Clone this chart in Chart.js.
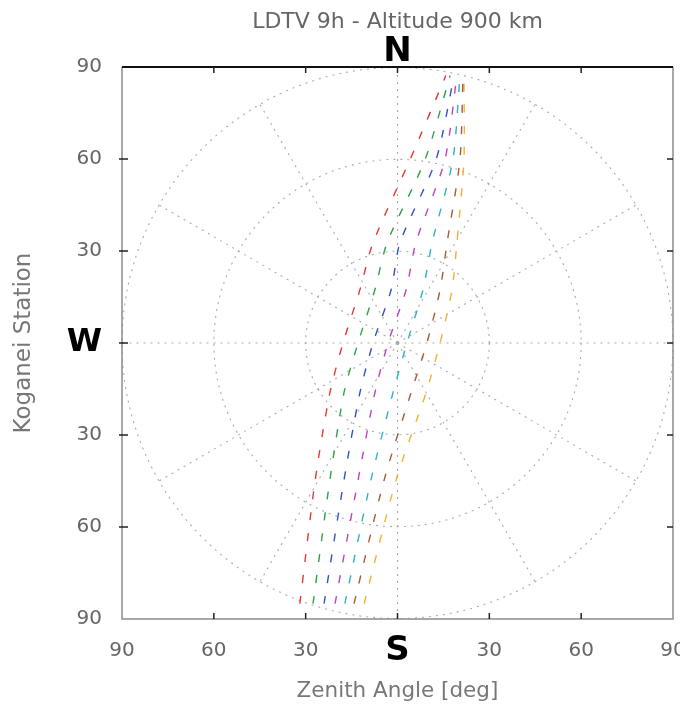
<!DOCTYPE html>
<html>
<head>
<meta charset="utf-8">
<title>LDTV 9h - Altitude 900 km</title>
<script src="https://cdn.jsdelivr.net/npm/chart.js@4.4.0/dist/chart.umd.min.js"></script>
<style>
  body { margin: 0; background: #fff; }
  #wrap { width: 680px; height: 707px; }
</style>
</head>
<body>
<div id="wrap"><canvas id="skyPlot" width="680" height="707"></canvas></div>
<script>
// sky plot: x = east/west offset, y = north/south offset, both in zenith degrees
const tickValues = [-90, -60, -30, 0, 30, 60, 90];
const ringZenith = [30, 60, 90];
const spokeAzimuth = [0, 30, 60, 90, 120, 150, 180, 210, 240, 270, 300, 330];

// shared north-south rows the passes were read at
const rowY = [-85, -44.8, -16.3, 0, 17.3, 32.7, 59.8, 87.2];

const passNames = ['pass 1', 'pass 2', 'pass 3', 'pass 4', 'pass 5', 'pass 6', 'pass 7'];
const passColors = ['#e8363a', '#2fa04a', '#3450c8', '#c042c0', '#2ab4c4', '#a85a36', '#f2b030'];
const pass1X = [-31.9, -26.9, -22.1, -17.8, -12.3, -8.0, 4.1, 15.8];
const pass2X = [-27.6, -22.1, -17.5, -12.9, -7.4, -3.4, 9.0, 17.2];
const pass3X = [-24.0, -17.5, -12.3, -8.0, -2.1, 0.8, 12.6, 18.5];
const pass4X = [-20.4, -12.9, -7.4, -3.1, 2.8, 6.0, 15.5, 19.4];
const pass5X = [-17.2, -8.7, -1.5, 3.1, 8.3, 11.3, 18.1, 20.4];
const pass6X = [-14.2, -4.4, 4.4, 9.6, 13.9, 16.2, 20.4, 21.4];
const pass7X = [-10.9, -0.5, 9.3, 13.9, 17.8, 19.4, 21.7, 21.7];
const passX = [pass1X, pass2X, pass3X, pass4X, pass5X, pass6X, pass7X];

const FAMILY = "'DejaVu Sans', sans-serif";

// rings, spokes, frame and inner tick marks, placed with the chart's own scales
const skyGrid = {
  id: 'skyGrid',
  beforeDatasetsDraw(chart) {
    const {ctx, scales: {x, y}} = chart;
    const cx = x.getPixelForValue(0), cy = y.getPixelForValue(0);
    ctx.save();
    ctx.strokeStyle = '#aaa';
    ctx.lineWidth = 1.1;
    ctx.setLineDash([2, 5]);
    ringZenith.forEach(z => {
      const r = x.getPixelForValue(z) - cx;
      ctx.beginPath();
      ctx.arc(cx, cy, r, 0, 2 * Math.PI);
      ctx.stroke();
    });
    spokeAzimuth.forEach(az => {
      const a = az * Math.PI / 180;
      ctx.beginPath();
      ctx.moveTo(cx, cy);
      ctx.lineTo(x.getPixelForValue(90 * Math.sin(a)), y.getPixelForValue(90 * Math.cos(a)));
      ctx.stroke();
    });
    ctx.restore();
  },
  afterDraw(chart) {
    const {ctx, chartArea: {left, right, top, bottom}, scales: {x, y}} = chart;
    ctx.save();
    ctx.lineWidth = 1.5;
    ctx.strokeStyle = '#8c8c8c';
    ctx.beginPath();
    ctx.moveTo(left, top);
    ctx.lineTo(left, bottom);
    ctx.lineTo(right, bottom);
    ctx.lineTo(right, top);
    ctx.stroke();
    ctx.lineWidth = 2;
    ctx.strokeStyle = '#111';
    ctx.beginPath();
    ctx.moveTo(left, top);
    ctx.lineTo(right, top);
    ctx.stroke();
    // small ticks pointing into the frame
    ctx.lineWidth = 1.5;
    ctx.strokeStyle = '#222';
    tickValues.slice(1, -1).forEach(v => {
      const px = x.getPixelForValue(v), py = y.getPixelForValue(v);
      ctx.beginPath();
      ctx.moveTo(px, bottom); ctx.lineTo(px, bottom - 6);
      ctx.moveTo(px, top); ctx.lineTo(px, top + 6);
      ctx.moveTo(left - 3, py); ctx.lineTo(left + 6, py);
      ctx.moveTo(right, py); ctx.lineTo(right - 6, py);
      ctx.stroke();
    });
    ctx.restore();
  }
};

const datasets = passX.map((xs, i) => ({
  label: passNames[i],
  data: xs.map((v, k) => ({x: v, y: rowY[k]})),
  showLine: true,
  borderColor: passColors[i],
  backgroundColor: passColors[i],
  borderWidth: 1.4,
  borderDash: [8, 13],
  pointRadius: 0,
  tension: 0.25
}));

function tickFont(letterSize, numberSize) {
  return ctx => ctx.tick && ctx.tick.value === 0
    ? {family: FAMILY, size: letterSize, weight: 'bold', lineHeight: 0.7}
    : {family: FAMILY, size: numberSize};
}

function tickColor(ctx) {
  return ctx.tick && ctx.tick.value === 0 ? '#000' : '#666';
}

new Chart(document.getElementById('skyPlot'), {
  type: 'scatter',
  data: {datasets: datasets},
  options: {
    responsive: false,
    animation: false,
    layout: {padding: {left: 0, right: 7, top: 0, bottom: 0}},
    plugins: {
      legend: {display: false},
      tooltip: {enabled: false}
    },
    scales: {
      x: {
        type: 'linear',
        min: -90, max: 90,
        grid: {display: false},
        border: {display: false},
        ticks: {
          stepSize: 30,
          padding: 12,
          color: tickColor,
          font: tickFont(34, 20),
          callback: v => v === 0 ? 'S' : String(Math.abs(v))
        },
        title: {
          display: true,
          text: 'Zenith Angle [deg]',
          color: '#777',
          font: {family: FAMILY, size: 21.5, lineHeight: 1.2},
          padding: {top: 0, bottom: 3}
        },
        afterFit: s => { s.height = 88; s.paddingLeft = 0; s.paddingRight = 0; }
      },
      // top axis only carries the chart title and the "N" marker
      xTop: {
        type: 'linear',
        position: 'top',
        min: -90, max: 90,
        grid: {display: false},
        border: {display: false},
        afterBuildTicks: s => { s.ticks = [{value: 0}]; },
        ticks: {
          padding: -8,
          color: '#000',
          font: {family: FAMILY, size: 34, weight: 'bold', lineHeight: 0.9},
          callback: () => 'N'
        },
        title: {
          display: true,
          text: 'LDTV 9h - Altitude 900 km',
          color: '#666',
          font: {family: FAMILY, size: 22, lineHeight: 1.2},
          padding: {top: 9, bottom: 0}
        },
        afterFit: s => { s.height = 67; s.paddingLeft = 0; s.paddingRight = 0; }
      },
      y: {
        type: 'linear',
        min: -90, max: 90,
        grid: {display: false},
        border: {display: false},
        ticks: {
          stepSize: 30,
          padding: 12,
          color: tickColor,
          font: ctx => ctx.tick && ctx.tick.value === 0
            ? {family: FAMILY, size: 32, weight: 'bold'}
            : {family: FAMILY, size: 20},
          callback: v => v === 0 ? 'W' : String(Math.abs(v))
        },
        title: {
          display: true,
          text: 'Koganei Station',
          color: '#777',
          font: {family: FAMILY, size: 23, lineHeight: 1.2},
          padding: {top: 10, bottom: 0}
        },
        afterFit: s => { s.width = 122; s.paddingTop = 0; s.paddingBottom = 0; }
      }
    }
  },
  plugins: [skyGrid]
});
</script>
</body>
</html>
